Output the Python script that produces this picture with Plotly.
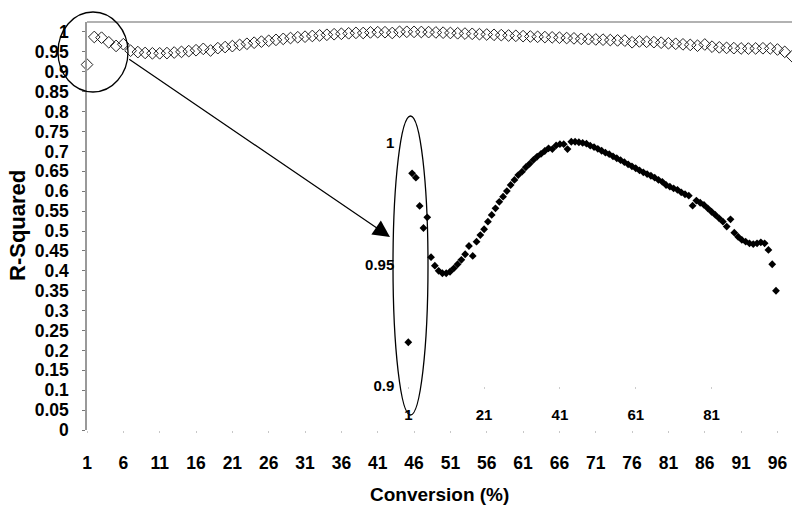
import plotly.graph_objects as go

# ---------------- data ----------------
conversion = list(range(1, 99))
r_squared = [
    0.918, 0.9875, 0.9857, 0.9741, 0.9650, 0.9694, 0.9530, 0.9495, 0.9474, 0.9464,
    0.9464, 0.9470, 0.9484, 0.9501, 0.9519, 0.9542, 0.9576, 0.9535, 0.9594, 0.9621,
    0.9645, 0.9676, 0.9704, 0.9731, 0.9758, 0.9779, 0.9802, 0.9827, 0.9848, 0.9868,
    0.9882, 0.9900, 0.9914, 0.9930, 0.9944, 0.9955, 0.9967, 0.9978, 0.9975, 0.9990,
    0.9995, 0.9995, 0.9975, 1.0005, 1.0005, 1.0003, 1.0000, 0.9997, 0.9989, 0.9983,
    0.9976, 0.9968, 0.9960, 0.9954, 0.9945, 0.9937, 0.9929, 0.9921, 0.9912, 0.9904,
    0.9896, 0.9887, 0.9879, 0.9872, 0.9865, 0.9857, 0.9848, 0.9840, 0.9827, 0.9820,
    0.9813, 0.9807, 0.9797, 0.9789, 0.9783, 0.9742, 0.9763, 0.9754, 0.9745, 0.9731,
    0.9717, 0.9704, 0.9690, 0.9676, 0.9656, 0.9686, 0.9631, 0.9614, 0.9601, 0.9594,
    0.9587, 0.9584, 0.9587, 0.9591, 0.9587, 0.9560, 0.9501, 0.9392,
]

main_x_ticks = [1, 6, 11, 16, 21, 26, 31, 36, 41, 46, 51, 56, 61, 66, 71, 76, 81, 86, 91, 96]
main_y_ticks = [0, 0.05, 0.1, 0.15, 0.2, 0.25, 0.3, 0.35, 0.4, 0.45, 0.5,
                0.55, 0.6, 0.65, 0.7, 0.75, 0.8, 0.85, 0.9, 0.95, 1]
main_y_labels = ["0", "0.05", "0.1", "0.15", "0.2", "0.25", "0.3", "0.35", "0.4", "0.45", "0.5",
                 "0.55", "0.6", "0.65", "0.7", "0.75", "0.8", "0.85", "0.9", "0.95", "1"]
inset_x_ticks = [1, 21, 41, 61, 81]
inset_y_ticks = [0.9, 0.95, 1]
inset_y_labels = ["0.9", "0.95", "1"]

x_title = "Conversion (%)"
y_title = "R-Squared"

# ---------------- layout helpers ----------------
W, H = 792, 507
L, R, T, B = 87, 0, 22, 77
PW = W - L - R
PH = H - T - B


def fx(p):
    return (p - L) / PW


def fy(p):
    return (H - B - p) / PH


FONT = "Liberation Sans, Arial, sans-serif"

fig = go.Figure()

fig.add_trace(go.Scatter(
    x=conversion, y=r_squared, mode="markers",
    marker=dict(symbol="diamond-open", size=9, color="#222222", line=dict(width=1, color="#222222")),
    cliponaxis=False, showlegend=False, xaxis="x", yaxis="y",
))

fig.add_trace(go.Scatter(
    x=conversion, y=r_squared, mode="markers",
    marker=dict(symbol="diamond", size=6, color="#000000"),
    cliponaxis=False, showlegend=False, xaxis="x2", yaxis="y2",
))

fig.update_layout(
    width=W, height=H,
    margin=dict(l=L, r=R, t=T, b=B, pad=0),
    paper_bgcolor="white", plot_bgcolor="white",
    font=dict(family=FONT, color="black"),
    xaxis=dict(
        range=[1, 98], tickvals=main_x_ticks, showgrid=False, zeroline=False,
        showline=False, ticks="outside", ticklen=2, tickcolor="#c8c8c8",
        tickfont=dict(family=FONT, size=17.5, weight="bold"), ticklabelstandoff=15,
    ),
    yaxis=dict(
        range=[0, 1.0251], tickvals=main_y_ticks, ticktext=main_y_labels,
        showgrid=False, zeroline=False, showline=True, linecolor="#999999", linewidth=1.5,
        ticks="outside", ticklen=3, tickcolor="#777777",
        tickfont=dict(family=FONT, size=17.5, weight="bold"), ticklabelstandoff=10,
    ),
    xaxis2=dict(
        domain=[fx(408.3), fx(776)], range=[1, 98], anchor="y2",
        tickvals=inset_x_ticks, showgrid=False, zeroline=False, showline=False,
        ticks="outside", ticklen=2, tickcolor="#cccccc",
        tickfont=dict(family=FONT, size=15, weight="bold"), ticklabelstandoff=13,
    ),
    yaxis2=dict(
        domain=[fy(386), fy(138.1)], range=[0.9, 1.002], anchor="x2",
        tickvals=inset_y_ticks, ticktext=inset_y_labels, showgrid=False, zeroline=False,
        showline=False, ticks="",
        tickfont=dict(family=FONT, size=15, weight="bold"), ticklabelstandoff=13,
    ),
    shapes=[
        dict(type="line", xref="paper", yref="paper", x0=0, x1=1, y0=fy(22), y1=fy(22),
             line=dict(color="#999999", width=1.5)),
        dict(type="circle", xref="paper", yref="paper", x0=fx(58), x1=fx(128), y0=fy(92), y1=fy(12),
             line=dict(color="black", width=1.3)),
        dict(type="circle", xref="paper", yref="paper", x0=fx(393), x1=fx(428), y0=fy(415), y1=fy(116),
             line=dict(color="black", width=1.3)),
    ],
    annotations=[
        dict(x=fx(390), y=fy(237), xref="paper", yref="paper", text="", showarrow=True,
             ax=127.7 - 390, ay=58.3 - 237, arrowhead=2, arrowsize=2.8, arrowwidth=1.2,
             arrowcolor="black", standoff=0, startstandoff=0),
        dict(x=fx(440), y=fy(495), xref="paper", yref="paper", text=x_title, showarrow=False,
             font=dict(family=FONT, size=19, weight="bold"), xanchor="center", yanchor="middle"),
        dict(x=fx(17), y=fy(226), xref="paper", yref="paper", text=y_title, showarrow=False,
             textangle=-90, font=dict(family=FONT, size=22, weight="bold"),
             xanchor="center", yanchor="middle"),
    ],
)

fig.write_html("out.html")
